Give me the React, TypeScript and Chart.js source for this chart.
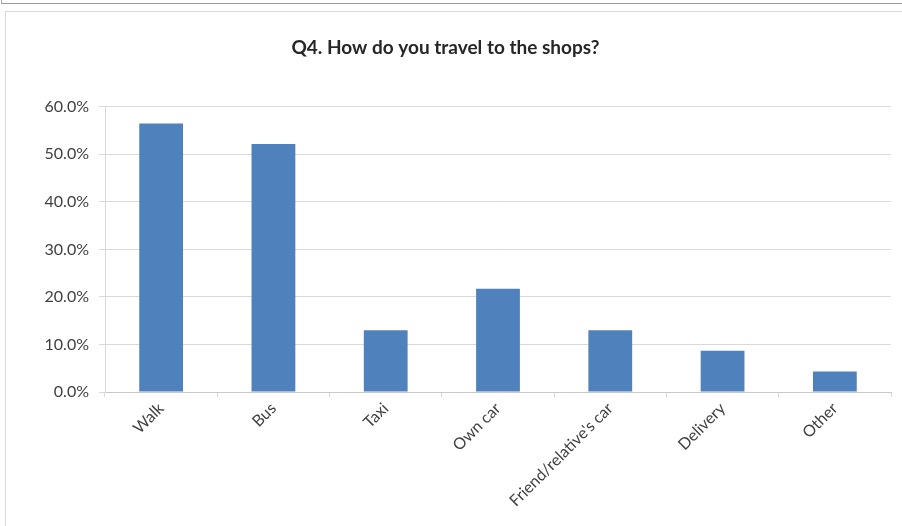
import React, { useEffect, useRef } from "react";
import { Chart, registerables } from "chart.js";

Chart.register(...registerables);

const categories = ["Walk", "Bus", "Taxi", "Own car", "Friend/relative's car", "Delivery", "Other"];
const shares = [0.565, 0.522, 0.130, 0.217, 0.130, 0.087, 0.043];
const yTickValues = [0, 0.1, 0.2, 0.3, 0.4, 0.5, 0.6];
const titleText = "Q4. How do you travel to the shops?";

const W = 902;
const H = 526;

export default function App() {
  const ref = useRef<HTMLCanvasElement | null>(null);

  useEffect(() => {
    if (!ref.current) return;
    const chart = new Chart(ref.current, {
      type: "bar",
      data: {
        labels: categories,
        datasets: [
          {
            data: shares,
            backgroundColor: "#4f81bd",
            borderWidth: 0,
            categoryPercentage: 1,
            barPercentage: 0.39,
          },
        ],
      },
      options: {
        responsive: false,
        animation: false,
        devicePixelRatio: 1,
        layout: { padding: { left: 0, right: 11, top: 0, bottom: 0 } },
        plugins: {
          legend: { display: false },
          tooltip: { enabled: false },
          title: {
            display: true,
            text: titleText,
            color: "#262626",
            font: { family: "Lato", size: 19, weight: "bold", lineHeight: 1.2 },
            padding: { top: 36, bottom: 48 },
          },
        },
        scales: {
          x: {
            type: "category",
            grid: {
              offset: true,
              drawOnChartArea: false,
              drawTicks: true,
              tickLength: 5,
              color: "#d9d9d9",
            },
            border: { color: "#c8c8c8", width: 1 },
            ticks: {
              maxRotation: 45,
              minRotation: 45,
              autoSkip: false,
              padding: 2,
              color: "#404040",
              font: { family: "Lato", size: 16 },
            },
            afterFit: (s: any) => {
              s.height = 134;
            },
          },
          y: {
            min: 0,
            max: 0.6,
            afterBuildTicks: (s: any) => {
              s.ticks = yTickValues.map((v) => ({ value: v }));
            },
            grid: { color: "#d9d9d9", tickLength: 6 },
            border: { color: "#d9d9d9", width: 1 },
            ticks: {
              padding: 10,
              color: "#404040",
              font: { family: "Lato", size: 16 },
              callback: (v: any) => (Number(v) * 100).toFixed(1) + "%",
            },
            afterFit: (s: any) => {
              s.width = 105;
            },
          },
        },
      },
    });
    return () => chart.destroy();
  }, []);

  return (
    <div style={{ position: "fixed", left: 0, top: 0, width: W, height: H, background: "#fff", overflow: "hidden" }}>
      <div style={{ position: "absolute", left: 1, top: -10, width: W, height: 13, borderLeft: "1px solid #b0b0b0", borderBottom: "1px solid #9a9a9a" }} />
      <div style={{ position: "absolute", left: 5, top: 11, width: W, height: H, borderLeft: "1px solid #d9d9d9", borderTop: "1px solid #d9d9d9" }} />
      <canvas ref={ref} width={W} height={H} style={{ position: "absolute", left: 0, top: 0, width: W, height: H }} />
    </div>
  );
}
